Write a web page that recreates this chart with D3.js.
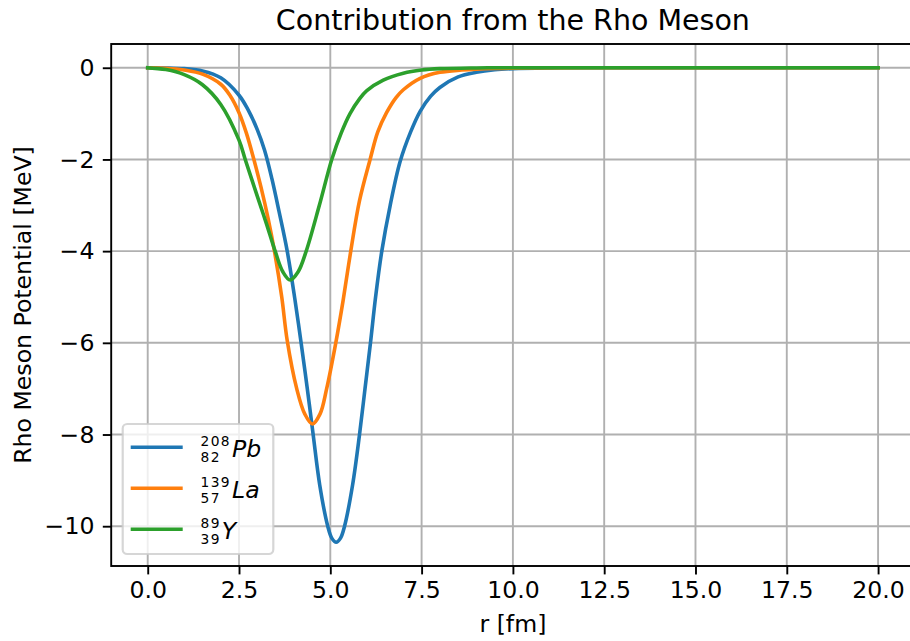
<!DOCTYPE html>
<html>
<head>
<meta charset="utf-8">
<script src="https://cdn.jsdelivr.net/npm/d3@7"></script>
<style>
  html, body { margin: 0; padding: 0; background: #ffffff; overflow: hidden; }
  svg { display: block; font-family: "DejaVu Sans", sans-serif; }
</style>
</head>
<body>
<svg id="chart" width="910" height="641"></svg>
<script>
// Radial positions [fm] and rho-meson potential [MeV] for each nucleus
const rPb = [0, 0.5, 1.0, 1.5, 2.0, 2.5, 2.75, 3.0, 3.2, 3.4, 3.6, 3.82, 4.03, 4.2, 4.37, 4.53, 4.71, 4.93, 5.04, 5.16, 5.28, 5.39, 5.61, 5.8, 5.95, 6.1, 6.24, 6.41, 6.64, 6.91, 7.2, 7.46, 7.75, 8.0, 8.5, 9.0, 9.5, 10, 11, 12, 14, 16, 18, 20];
const vPb = [0, -0.004, -0.02, -0.07, -0.22, -0.6, -0.92, -1.35, -1.8, -2.42, -3.15, -4.0, -5.05, -6.0, -7.0, -8.0, -9.1, -10.0, -10.26, -10.35, -10.26, -10.0, -9.1, -8.0, -7.0, -6.0, -5.0, -4.0, -3.0, -2.05, -1.4, -0.95, -0.62, -0.43, -0.2, -0.1, -0.045, -0.02, -0.004, 0, 0, 0, 0, 0];

const rLa = [0, 0.5, 1.0, 1.5, 2.0, 2.25, 2.5, 2.7, 2.9, 3.1, 3.3, 3.47, 3.67, 3.82, 4.08, 4.3, 4.51, 4.72, 4.9, 5.15, 5.35, 5.56, 5.8, 6.09, 6.3, 6.54, 6.8, 7.0, 7.46, 8.0, 8.6, 9.5, 10.5, 12, 14, 16, 18, 20];
const vLa = [0, -0.01, -0.05, -0.14, -0.36, -0.6, -0.98, -1.42, -1.98, -2.6, -3.3, -4.0, -5.0, -5.95, -7.0, -7.55, -7.77, -7.55, -7.0, -6.0, -5.08, -4.0, -2.9, -2.0, -1.4, -0.98, -0.65, -0.48, -0.23, -0.1, -0.05, -0.015, -0.003, 0, 0, 0, 0, 0];

const rY = [0, 0.5, 1.0, 1.5, 2.0, 2.5, 2.67, 3.0, 3.25, 3.49, 3.7, 3.9, 4.12, 4.34, 4.7, 5.04, 5.3, 5.54, 5.8, 6.0, 6.45, 7.0, 7.5, 8.0, 9.0, 10, 12, 14, 16, 18, 20];
const vY = [0, -0.04, -0.15, -0.37, -0.8, -1.58, -2.0, -2.8, -3.4, -4.0, -4.45, -4.63, -4.45, -4.0, -3.0, -2.0, -1.42, -1.0, -0.68, -0.5, -0.27, -0.12, -0.05, -0.02, -0.004, 0, 0, 0, 0, 0, 0];

// Legend entries: mass number, atomic number, symbol
const seriesNames = ["Pb", "La", "Y"];
const massNumbers = ["208", "139", "89"];
const atomicNumbers = ["82", "57", "39"];
const seriesColors = ["#1f77b4", "#ff7f0e", "#2ca02c"];

const xTicks = [0, 2.5, 5, 7.5, 10, 12.5, 15, 17.5, 20];
const yTicks = [-10, -8, -6, -4, -2, 0];

const titleText = "Contribution from the Rho Meson";
const xLabel = "r [fm]";
const yLabel = "Rho Meson Potential [MeV]";

// ---- layout ----
const fs = 23.6;               // base font size (10pt)
const svg = d3.select("#chart");
const plotL = 111.2, plotR = 914.6, plotT = 44, plotB = 566;

const x = d3.scaleLinear().domain([-1, 21]).range([plotL, plotR]);
const y = d3.scaleLinear().domain([-10.868, 0.518]).range([plotB, plotT]);

// grid
const grid = svg.append("g");
grid.selectAll("line.gx").data(xTicks).join("line")
  .attr("class", "gx")
  .attr("x1", d => x(d)).attr("x2", d => x(d))
  .attr("y1", plotT).attr("y2", plotB)
  .attr("stroke", "#b0b0b0").attr("stroke-width", 1.9);
grid.selectAll("line.gy").data(yTicks).join("line")
  .attr("class", "gy")
  .attr("x1", plotL).attr("x2", plotR)
  .attr("y1", d => y(d)).attr("y2", d => y(d))
  .attr("stroke", "#b0b0b0").attr("stroke-width", 1.9);

// curves
const series = [
  { r: rPb, v: vPb },
  { r: rLa, v: vLa },
  { r: rY, v: vY }
];
const line = d3.line()
  .x(d => x(d[0])).y(d => y(d[1]))
  .curve(d3.curveCatmullRom.alpha(0.5));

series.forEach((s, i) => {
  const pts = s.r.map((rv, k) => [rv, s.v[k]]);
  svg.append("path")
    .datum(pts)
    .attr("d", line)
    .attr("fill", "none")
    .attr("stroke", seriesColors[i])
    .attr("stroke-width", 3.6)
    .attr("stroke-linejoin", "round")
    .attr("stroke-linecap", "square");
});

// axes
const xAxis = d3.axisBottom(x).tickValues(xTicks)
  .tickFormat(d3.format(".1f")).tickSize(8.4).tickPadding(7);
const yAxis = d3.axisLeft(y).tickValues(yTicks)
  .tickFormat(d => d < 0 ? "\u2212" + Math.abs(d) : String(d)).tickSize(8.4).tickPadding(8.4);

const gx = svg.append("g").attr("transform", `translate(0,${plotB})`).call(xAxis);
const gy = svg.append("g").attr("transform", `translate(${plotL},0)`).call(yAxis);
[gx, gy].forEach(g => {
  g.select(".domain").remove();
  g.selectAll(".tick line").attr("stroke", "#000").attr("stroke-width", 1.9);
  g.selectAll(".tick text")
    .attr("fill", "#000")
    .attr("font-family", "DejaVu Sans")
    .attr("font-size", fs);
});

// spines
svg.append("rect")
  .attr("x", plotL).attr("y", plotT)
  .attr("width", plotR - plotL).attr("height", plotB - plotT)
  .attr("fill", "none").attr("stroke", "#000").attr("stroke-width", 1.9);

// title & labels
svg.append("text")
  .attr("x", (plotL + plotR) / 2).attr("y", 30)
  .attr("text-anchor", "middle")
  .attr("font-size", 28.5)
  .text(titleText);

svg.append("text")
  .attr("x", (plotL + plotR) / 2).attr("y", 632)
  .attr("text-anchor", "middle")
  .attr("font-size", fs)
  .text(xLabel);

svg.append("text")
  .attr("transform", `translate(31,${(plotT + plotB) / 2}) rotate(-90)`)
  .attr("text-anchor", "middle")
  .attr("font-size", fs)
  .text(yLabel);

// legend
const lg = svg.append("g");
lg.append("rect")
  .attr("x", 122.7).attr("y", 424)
  .attr("width", 150.6).attr("height", 130)
  .attr("rx", 4.5).attr("ry", 4.5)
  .attr("fill", "#ffffff").attr("fill-opacity", 0.8)
  .attr("stroke", "#cccccc").attr("stroke-opacity", 0.8).attr("stroke-width", 2.2);

seriesNames.forEach((name, i) => {
  const cy = 447.3 + 41 * i;
  lg.append("line")
    .attr("x1", 130.7).attr("x2", 182.7)
    .attr("y1", cy).attr("y2", cy)
    .attr("stroke", seriesColors[i]).attr("stroke-width", 3.6);
  const x0 = 200.5;
  // nuclide notation: mass number above, atomic number below
  const sup = lg.append("text")
    .attr("x", x0).attr("y", cy - 1.6)
    .attr("font-size", 13.8).attr("letter-spacing", 1.4)
    .text(massNumbers[i]);
  const sub = lg.append("text")
    .attr("x", x0).attr("y", cy + 14.6)
    .attr("font-size", 13.8).attr("letter-spacing", 1.4)
    .text(atomicNumbers[i]);
  const w = Math.max(sup.node().getBBox().width, sub.node().getBBox().width);
  lg.append("text")
    .attr("x", x0 + w + 1.0).attr("y", cy + 9.4)
    .attr("font-size", fs)
    .attr("font-style", "italic")
    .text(name);
});
</script>
</body>
</html>
